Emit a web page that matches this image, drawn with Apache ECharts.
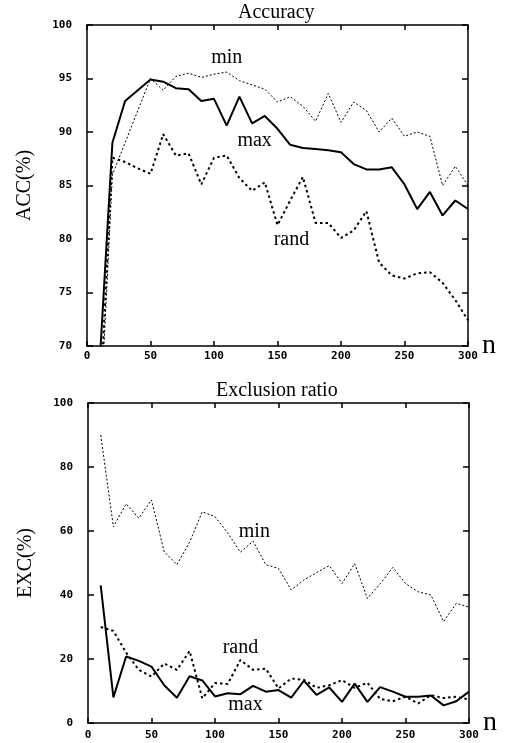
<!DOCTYPE html>
<html>
<head>
<meta charset="utf-8">
<script src="https://cdn.jsdelivr.net/npm/echarts@6/dist/echarts.min.js"></script>
<style>
body{margin:0;background:#fff;}
#main{width:513px;height:743px;}
</style>
</head>
<body>
<div id="main"></div>
<script>
// sample sizes
var nVals = [10,20,30,40,50,60,70,80,90,100,110,120,130,140,150,160,170,180,190,200,210,220,230,240,250,260,270,280,290,300];

// Accuracy (%)
var accMax  = [68.5,89.0,92.9,93.9,94.9,94.7,94.1,94.0,92.9,93.1,90.6,93.3,90.8,91.5,90.3,88.8,88.5,88.4,88.3,88.1,87.0,86.5,86.5,86.7,85.1,82.8,84.4,82.2,83.6,82.8];
var accMin  = [62.0,86.0,89.0,92.0,95.0,93.9,95.2,95.5,95.1,95.4,95.6,94.8,94.4,94.0,92.8,93.3,92.4,91.0,93.6,90.9,92.8,92.0,90.0,91.3,89.6,90.0,89.6,85.0,86.8,85.0];
var accRand = [64.0,87.6,87.2,86.6,86.1,89.8,87.8,88.0,85.1,87.6,87.8,85.7,84.5,85.3,81.3,83.6,85.8,81.5,81.5,80.1,80.8,82.6,77.8,76.6,76.3,76.8,76.9,75.9,74.3,72.4];

// Exclusion ratio (%)
var excMax  = [43.0,8.0,20.8,19.4,17.6,11.8,7.9,14.6,13.3,8.3,9.3,9.0,11.6,9.8,10.3,7.9,13.2,8.8,11.1,6.6,12.3,6.6,11.2,9.8,8.2,8.2,8.6,5.5,6.8,9.8];
var excMin  = [90.0,61.3,68.5,64.0,69.7,53.5,49.5,56.5,66.0,64.5,59.4,53.4,56.8,49.5,48.3,41.6,44.7,47.0,49.2,43.6,49.8,38.9,43.5,48.6,43.6,41.0,40.0,31.7,37.4,36.2];
var excRand = [30.0,28.8,22.0,16.6,14.5,18.6,16.6,22.5,7.7,12.5,12.2,19.7,16.6,17.0,10.8,13.9,13.5,11.0,11.8,13.4,11.0,12.6,7.5,6.8,8.2,6.1,8.7,7.8,8.2,7.3];

// tick labels
var xTicks   = [0,50,100,150,200,250,300];
var accTicks = [70,75,80,85,90,95,100];
var excTicks = [0,20,40,60,80,100];

function pairs(ys) {
  return nVals.map(function (n, i) { return [n, ys[i]]; });
}

var tickFont = {color:'#000', fontFamily:'DejaVu Sans Mono', fontWeight:'bold', fontSize:11};
var serif = 'Liberation Serif';

function xAx(grid, pos, showLabel) {
  return {
    type:'value', gridIndex:grid, position:pos,
    min:xTicks[0], max:xTicks[xTicks.length-1], interval:xTicks[1]-xTicks[0],
    axisLine:{onZero:false, lineStyle:{color:'#000', width:1.5}},
    axisTick:{inside:true, length:5, lineStyle:{color:'#000', width:1.5}},
    axisLabel:Object.assign({show:showLabel, margin:grid ? 7 : 5}, tickFont),
    splitLine:{show:false},
    name: showLabel ? 'n' : '',
    nameLocation:'end', nameGap:14,
    nameTextStyle:{fontFamily:serif, fontSize:28, color:'#000', verticalAlign:'middle'}
  };
}
function yAx(grid, ticks, pos, showLabel, name) {
  return {
    type:'value', gridIndex:grid, position:pos,
    min:ticks[0], max:ticks[ticks.length-1], interval:ticks[1]-ticks[0],
    axisLine:{onZero:false, lineStyle:{color:'#000', width:1.5}},
    axisTick:{inside:true, length:6, lineStyle:{color:'#000', width:1.5}},
    axisLabel:Object.assign({show:showLabel, margin:15}, tickFont),
    splitLine:{show:false},
    name: showLabel ? name : '',
    nameLocation:'middle', nameRotate:90, nameGap:52,
    nameTextStyle:{fontFamily:serif, fontSize:20, color:'#000'}
  };
}

function tag(txt, n, v) {
  return {coord:[n, v], name:txt, value:txt};
}
function markTexts(list) {
  return {
    silent:true, symbol:'circle', symbolSize:1,
    itemStyle:{color:'rgba(0,0,0,0)'},
    label:{show:true, position:'inside', formatter:'{b}', color:'#000', fontFamily:serif, fontSize:20},
    data:list
  };
}

var solid  = {color:'#000', width:2, type:'solid'};
var fine   = {color:'#000', width:1, type:[2,2]};
var coarse = {color:'#000', width:2, type:[2.5,3]};

function line(grid, ys, style, marks) {
  var s = {
    type:'line', xAxisIndex:grid*2, yAxisIndex:grid*2,
    data:pairs(ys), symbol:'none', lineStyle:style, silent:true, animation:false
  };
  if (marks) s.markPoint = markTexts(marks);
  return s;
}

var chart = echarts.init(document.getElementById('main'));
chart.setOption({
  animation:false,
  grid:[
    {left:87, top:25, width:381, height:321},
    {left:88, top:403, width:381, height:320}
  ],
  graphic:[
    {type:'text', left:238, top:3, style:{text:'Accuracy', font:'20px "Liberation Serif"', fill:'#000'}},
    {type:'text', left:216, top:381, style:{text:'Exclusion ratio', font:'20px "Liberation Serif"', fill:'#000'}}
  ],
  xAxis:[xAx(0,'bottom',true), xAx(0,'top',false), xAx(1,'bottom',true), xAx(1,'top',false)],
  yAxis:[yAx(0,accTicks,'left',true,'ACC(%)'), yAx(0,accTicks,'right',false),
         yAx(1,excTicks,'left',true,'EXC(%)'), yAx(1,excTicks,'right',false)],
  series:[
    line(0, accMax, solid, [tag('max', 132, 89.2)]),
    line(0, accMin, fine, [tag('min', 110, 96.9)]),
    line(0, accRand, coarse, [tag('rand', 161, 79.9)]),
    line(1, excMax, solid, [tag('max', 124, 5.6)]),
    line(1, excMin, fine, [tag('min', 131, 59.7)]),
    line(1, excRand, coarse, [tag('rand', 120, 23.4)])
  ]
});
</script>
</body>
</html>
